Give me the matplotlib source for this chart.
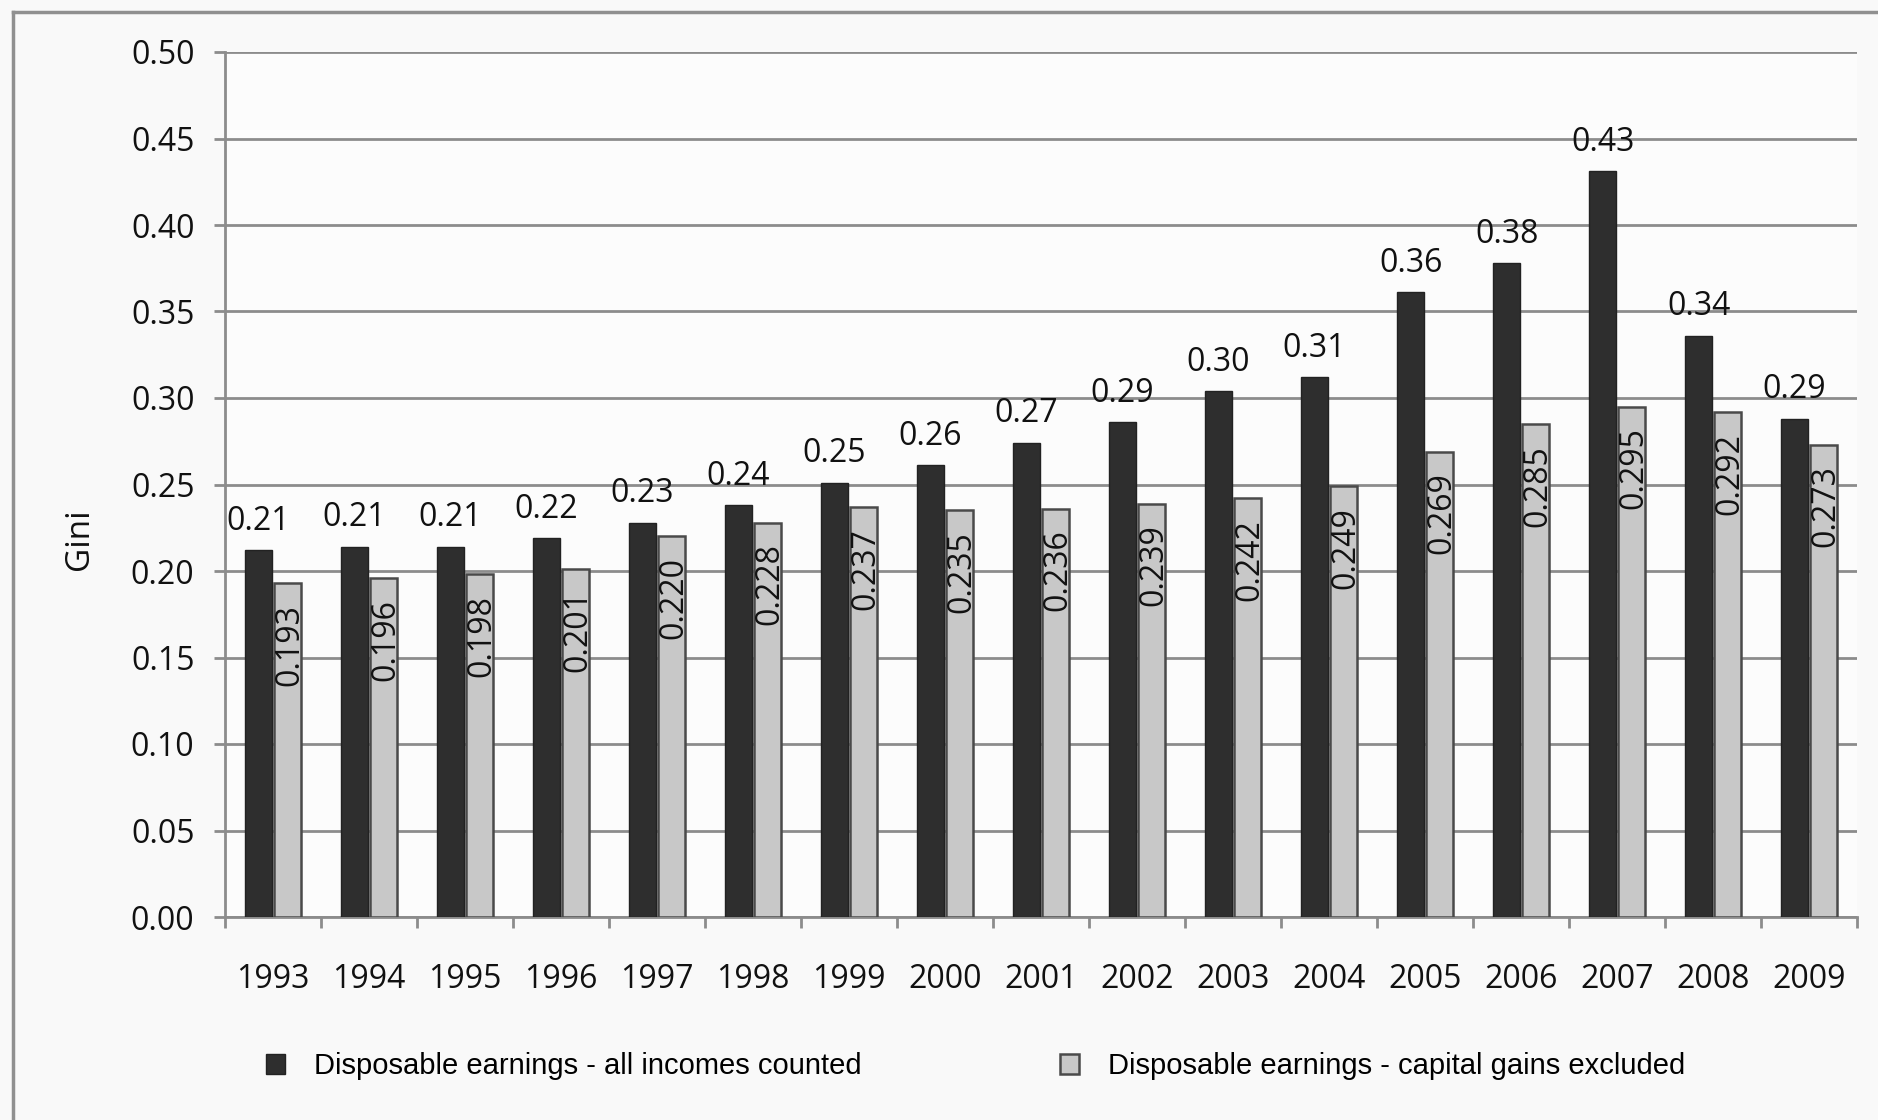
import numpy as np
import matplotlib
matplotlib.use('Agg')
import matplotlib.pyplot as plt
from matplotlib.patches import Patch
from matplotlib.lines import Line2D

years = ['1993', '1994', '1995', '1996', '1997', '1998', '1999', '2000', '2001',
         '2002', '2003', '2004', '2005', '2006', '2007', '2008', '2009']
# Gini, all incomes counted (bar heights)
gini_all = [0.212, 0.214, 0.214, 0.219, 0.228, 0.238, 0.251, 0.261, 0.274,
            0.286, 0.304, 0.312, 0.361, 0.378, 0.431, 0.336, 0.288]
# Gini, capital gains excluded
gini_excl = [0.193, 0.196, 0.198, 0.201, 0.220, 0.228, 0.237, 0.235, 0.236,
             0.239, 0.242, 0.249, 0.269, 0.285, 0.295, 0.292, 0.273]
series_names = ['Disposable earnings - all incomes counted',
                'Disposable earnings - capital gains excluded']

num_font = ['Open Sans', 'DejaVu Sans']
leg_font = ['Liberation Sans', 'DejaVu Sans']
dark = '#2e2e2e'
light = '#c8c8c8'
grid_c = '#8c8c8c'
bg = '#f9f9f9'
txt_c = '#111111'

fig = plt.figure(figsize=(18.78, 11.2), dpi=100, facecolor=bg)
ax = fig.add_axes([225 / 1878, 1 - 917 / 1120, 1632 / 1878, 865 / 1120])
ax.set_facecolor('#fcfcfc')

x = np.arange(len(years))
w = 0.285
off = 0.15
ax.bar(x - off, gini_all, w, color=dark, edgecolor='#222222', linewidth=1.0, zorder=3)
ax.bar(x + off, gini_excl, w, color=light, edgecolor='#4a4a4a', linewidth=1.8, zorder=3)

for i in range(len(years)):
    ax.annotate('{:.2f}'.format(gini_all[i]), (x[i] - off, gini_all[i]), xytext=(0, 9),
                textcoords='offset points', ha='center', va='bottom',
                fontsize=23, family=num_font, color=txt_c, zorder=5)
    ax.annotate('{:.3f}'.format(gini_excl[i]), (x[i] + off, gini_excl[i]), xytext=(2, -15),
                textcoords='offset points', ha='center', va='top', rotation=90,
                fontsize=23, family=num_font, color=txt_c, zorder=5)

ax.set_xlim(-0.5, len(years) - 0.5)
ax.set_ylim(0, 0.5)
ax.set_yticks(np.arange(0, 0.501, 0.05))
ax.set_yticklabels(['{:.2f}'.format(v) for v in np.arange(0, 0.501, 0.05)],
                   fontsize=23, family=num_font, color=txt_c)
ax.yaxis.grid(True, color=grid_c, linewidth=2.0, zorder=0)
ax.set_axisbelow(True)

# category boundaries carry the tick marks, the year names sit in between
ax.set_xticks(np.arange(-0.5, len(years), 1.0))
ax.set_xticklabels([])
ax.set_xticks(x, minor=True)
ax.set_xticklabels(years, minor=True, fontsize=23, family=num_font, color=txt_c)
ax.tick_params(axis='x', which='major', direction='out', length=8, width=2, color=grid_c)
ax.tick_params(axis='x', which='minor', length=0, pad=33)
ax.tick_params(axis='y', direction='out', length=8, width=2, color=grid_c, pad=14)

for s in ['top', 'right']:
    ax.spines[s].set_visible(False)
for s in ['left', 'bottom']:
    ax.spines[s].set_color(grid_c)
    ax.spines[s].set_linewidth(2.0)

ax.set_ylabel('Gini', fontsize=24, family=num_font, color=txt_c)
ax.yaxis.set_label_coords(-0.079, 0.437)

handles = [Patch(facecolor=dark, edgecolor='#222222'),
           Patch(facecolor=light, edgecolor='#4a4a4a', linewidth=1.8)]
fig.legend(handles, series_names, loc='center left', bbox_to_anchor=(266 / 1878, 1 - 1066 / 1120),
           ncol=2, frameon=False, borderpad=0, borderaxespad=0, handlelength=0.65, handleheight=0.7,
           handletextpad=1.0, columnspacing=6.8, prop={'family': leg_font, 'size': 21})

# outer frame (only the left and top edges are visible in the source)
fig.add_artist(Line2D([13 / 1878, 13 / 1878], [0, 1 - 12 / 1120], color='#909090', linewidth=2.5))
fig.add_artist(Line2D([13 / 1878, 1], [1 - 12 / 1120, 1 - 12 / 1120], color='#909090', linewidth=2.5))

plt.savefig('out.png', dpi=100, facecolor=bg)
